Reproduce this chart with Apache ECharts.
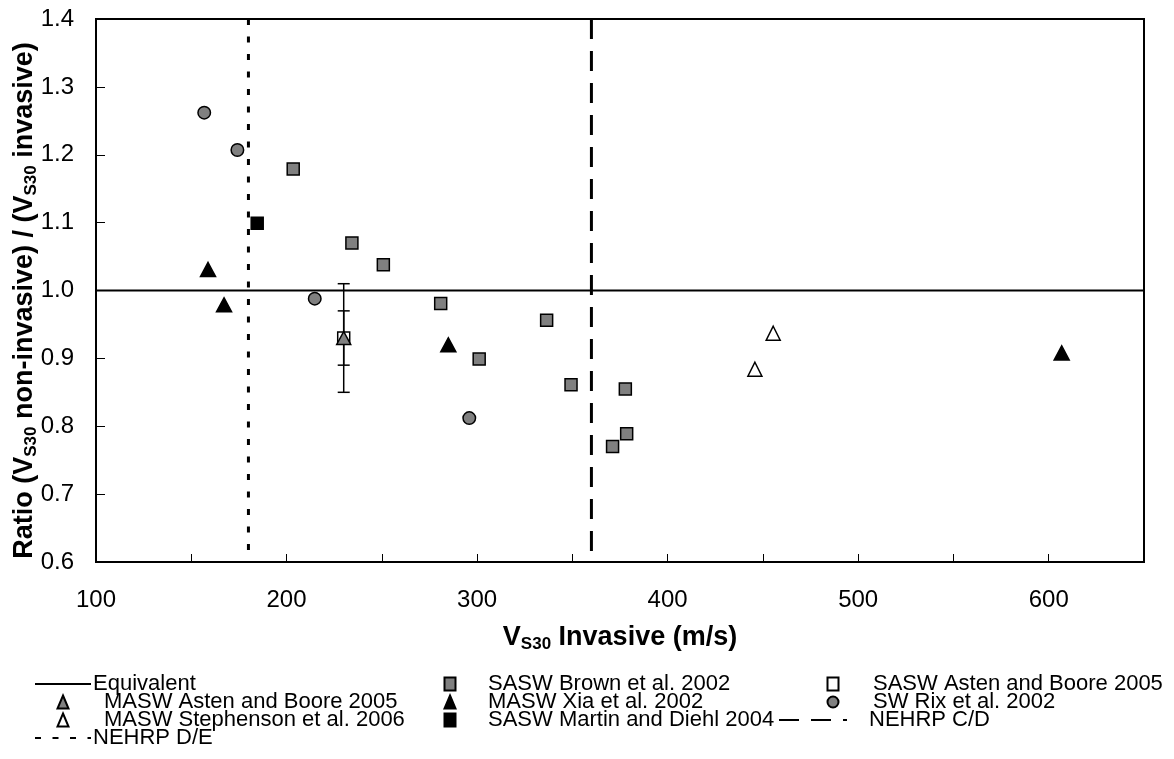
<!DOCTYPE html>
<html>
<head>
<meta charset="utf-8">
<script src="https://cdn.jsdelivr.net/npm/echarts@6/dist/echarts.min.js"></script>
<style>
  html, body { margin: 0; padding: 0; background: #fff; }
  #chart { width: 1174px; height: 759px; }
</style>
</head>
<body>
<div id="chart"></div>
<script>
// ---- Data: VS30 invasive (m/s) vs ratio of non-invasive / invasive VS30 ----
const brownX = [203.5, 234.3, 250.8, 280.9, 336.5, 301.1, 349.3, 377.8, 378.5, 371.1];
const brownY = [1.179, 1.070, 1.038, 0.981, 0.956, 0.899, 0.861, 0.855, 0.789, 0.770];

const astenSaswX = [230];
const astenSaswY = [0.93];

const astenMaswX = [230];
const astenMaswY = [0.93];

const xiaX = [158.8, 167.2, 284.9, 606.8];
const xiaY = [1.031, 0.979, 0.920, 0.908];

const rixX = [156.8, 174.2, 214.8, 295.9];
const rixY = [1.262, 1.207, 0.988, 0.812];

const stephensonX = [455.4, 445.8];
const stephensonY = [0.937, 0.884];

const martinX = [184.6];
const martinY = [1.099];

// Error bars on the Asten and Boore (2005) site: centre and half-range
const errX = [230, 230];
const errY = [0.93, 0.93];
const errHalf = [0.08, 0.04];

// Reference lines
const equivalentRatio = 1.0;
const nehrpCD = 360;
const nehrpDE = 180;

// Axis ranges
const xMin = 100, xMax = 650, xStep = 50;
const yMin = 0.6, yMax = 1.4, yStep = 0.1;

const FONT = "'Liberation Sans', Arial, sans-serif";
const zip = (xs, ys) => xs.map((x, i) => [x, ys[i]]);

const chart = echarts.init(document.getElementById('chart'), null, { renderer: 'canvas' });

function scatter(name, xs, ys, symbol, size, color, z) {
  return {
    name, type: 'scatter', data: zip(xs, ys), symbol, symbolSize: size,
    itemStyle: { color, opacity: 1, borderColor: '#000', borderWidth: 1.5 },
    z: z || 5, emphasis: { disabled: true }
  };
}

// Legend layout: one legend per entry so the three columns line up.
// Marker entries use a small icon; line entries use a long line sample
// (the marker normally drawn on a line icon is hidden).
function legendMarker(name, centerX, top, textLeft) {
  const w = 11;
  const left = centerX - w / 2;
  return {
    data: [name], left, top, padding: 0, orient: 'vertical',
    itemWidth: w, itemHeight: 13, itemGap: 0, selectedMode: false,
    textStyle: { fontFamily: FONT, fontSize: 22, color: '#000',
                 padding: [0, 0, 0, textLeft - (left + w + 5)] }
  };
}
function legendLine(name, left, width, top, textLeft) {
  return {
    data: [{ name, itemStyle: { opacity: 0 } }], left, top, padding: 0, orient: 'vertical',
    itemWidth: width, itemHeight: 13, itemGap: 0, selectedMode: false,
    textStyle: { fontFamily: FONT, fontSize: 22, color: '#000',
                 padding: [0, 0, 0, textLeft - (left + width + 5)] }
  };
}
const rowTop = [673, 691, 709, 727];

const titleRich = {
  b: { fontFamily: FONT, fontSize: 27, fontWeight: 'bold', color: '#000', lineHeight: 31 },
  s: { fontFamily: FONT, fontSize: 17, fontWeight: 'bold', color: '#000', lineHeight: 15, verticalAlign: 'bottom' }
};

const option = {
  backgroundColor: '#fff',
  animation: false,
  grid: {
    left: 96, right: 30, top: 19, bottom: 197,
    outerBoundsMode: 'none', containLabel: false,
    show: true, borderColor: '#000', borderWidth: 2
  },
  xAxis: {
    type: 'value', min: xMin, max: xMax, interval: xStep,
    axisLine: { show: true, onZero: false, lineStyle: { color: '#000', width: 2 } },
    axisTick: { show: true, inside: true, length: 8, lineStyle: { color: '#000', width: 1 } },
    splitLine: { show: false },
    axisLabel: {
      fontFamily: FONT, fontSize: 24, color: '#000', margin: 26,
      formatter: v => (v % 100 === 0 ? String(v) : '')
    },
    name: '{b|V}{s|S30}{b| Invasive (m/s)}',
    nameLocation: 'middle', nameGap: 60, nameMoveOverlap: false,
    nameTextStyle: { rich: titleRich }
  },
  yAxis: {
    type: 'value', min: yMin, max: yMax, interval: yStep,
    axisLine: { show: true, onZero: false, lineStyle: { color: '#000', width: 2 } },
    axisTick: { show: true, inside: true, length: 9, lineStyle: { color: '#000', width: 1 } },
    splitLine: { show: false },
    axisLabel: {
      fontFamily: FONT, fontSize: 24, color: '#000', margin: 22,
      formatter: v => v.toFixed(1)
    },
    name: '{b|Ratio (V}{s|S30}{b| non-invasive) / (V}{s|S30}{b| invasive)}',
    nameLocation: 'middle', nameGap: 56, nameRotate: 90, nameMoveOverlap: false,
    nameTextStyle: { rich: titleRich, padding: [0, 20, 0, 0] }
  },
  legend: [
    legendLine('Equivalent', 34, 56, rowTop[0], 92),
    legendMarker('MASW Asten and Boore 2005', 62, rowTop[1], 103),
    legendMarker('MASW Stephenson et al. 2006', 62, rowTop[2], 103),
    legendLine('NEHRP D/E', 34, 56, rowTop[3], 92),
    legendMarker('SASW Brown et al. 2002', 449, rowTop[0], 487),
    legendMarker('MASW Xia et al. 2002', 449, rowTop[1], 487),
    legendMarker('SASW Martin and Diehl 2004', 449, rowTop[2], 487),
    legendMarker('SASW Asten and Boore 2005', 832, rowTop[0], 872),
    legendMarker('SW Rix et al. 2002', 832, rowTop[1], 872),
    legendLine('NEHRP C/D', 778, 68, rowTop[2], 868)
  ],
  series: [
    {
      name: 'Equivalent', type: 'line', data: [[xMin, equivalentRatio], [xMax, equivalentRatio]],
      symbol: 'none', lineStyle: { color: '#000', width: 2, type: 'solid' },
      itemStyle: { color: '#000' }, z: 2, silent: true
    },
    {
      name: 'NEHRP C/D', type: 'line', data: [[nehrpCD, yMax], [nehrpCD, yMin]],
      symbol: 'none', lineStyle: { color: '#000', width: 3, type: [20, 12] },
      itemStyle: { color: '#000' }, z: 2, silent: true
    },
    {
      name: 'NEHRP D/E', type: 'line', data: [[nehrpDE, yMax], [nehrpDE, yMin]],
      symbol: 'none', lineStyle: { color: '#000', width: 3, type: [6, 11.5] },
      itemStyle: { color: '#000' }, z: 2, silent: true
    },
    {
      name: 'errorbars', type: 'custom', silent: true, z: 3,
      data: errX.map((x, i) => [x, errY[i], errHalf[i]]),
      encode: { x: 0, y: 1 },
      renderItem: function (params, api) {
        const x = api.value(0), y = api.value(1), h = api.value(2);
        const top = api.coord([x, y + h]);
        const bot = api.coord([x, y - h]);
        const half = 6;
        const st = { stroke: '#000', lineWidth: 1.5 };
        return {
          type: 'group',
          children: [
            { type: 'line', shape: { x1: top[0], y1: top[1], x2: bot[0], y2: bot[1] }, style: st },
            { type: 'line', shape: { x1: top[0] - half, y1: top[1], x2: top[0] + half, y2: top[1] }, style: st },
            { type: 'line', shape: { x1: bot[0] - half, y1: bot[1], x2: bot[0] + half, y2: bot[1] }, style: st }
          ]
        };
      }
    },
    scatter('SASW Brown et al. 2002', brownX, brownY, 'rect', 12, '#808080'),
    scatter('SASW Asten and Boore 2005', astenSaswX, astenSaswY, 'rect', 12, '#ffffff'),
    scatter('MASW Asten and Boore 2005', astenMaswX, astenMaswY, 'triangle', [14, 13], '#808080', 6),
    scatter('MASW Xia et al. 2002', xiaX, xiaY, 'triangle', [15, 14], '#000000'),
    scatter('SW Rix et al. 2002', rixX, rixY, 'circle', 12.5, '#808080'),
    scatter('MASW Stephenson et al. 2006', stephensonX, stephensonY, 'triangle', [14, 14], '#ffffff'),
    scatter('SASW Martin and Diehl 2004', martinX, martinY, 'rect', 12, '#000000')
  ]
};

chart.setOption(option);
</script>
</body>
</html>
